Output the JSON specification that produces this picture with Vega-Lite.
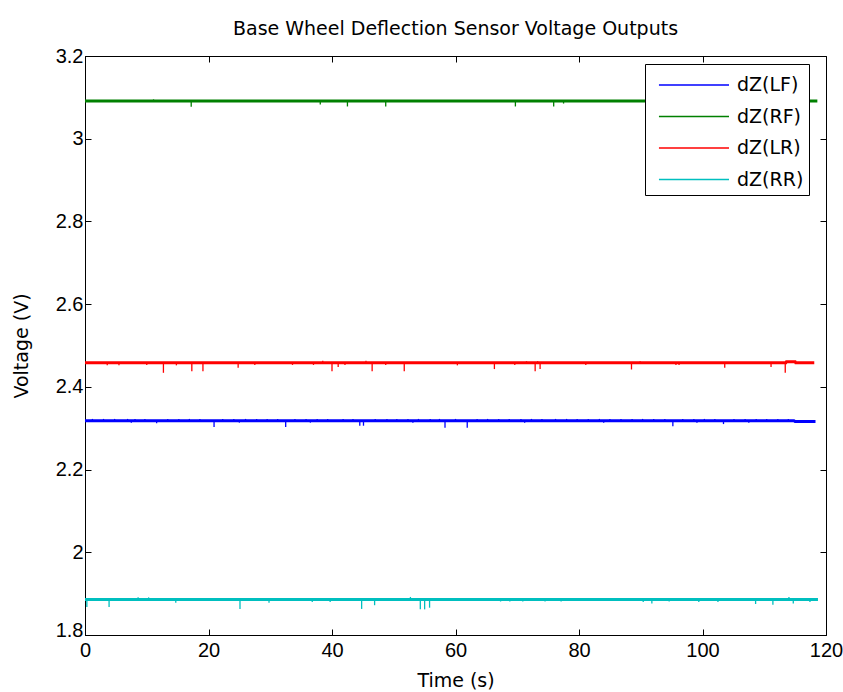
{
  "$schema": "https://vega.github.io/schema/vega-lite/v6.json",
  "width": 741,
  "height": 579,
  "autosize": "none",
  "padding": {"left": 85, "top": 56, "right": 17, "bottom": 57},
  "background": "white",
  "title": {"text": "Base Wheel Deflection Sensor Voltage Outputs", "font": "DejaVu Sans", "fontSize": 19, "fontWeight": "normal", "color": "black", "offset": 7},
  "config": {"view": {"stroke": "black", "strokeWidth": 1}},
  "datasets": {
    "base": [
      {"s": "dZ(LF)", "t": 0, "v": 2.318}, {"s": "dZ(LF)", "t": 114.8, "v": 2.318}, {"s": "dZ(LF)", "t": 115.0, "v": 2.316}, {"s": "dZ(LF)", "t": 118.3, "v": 2.316},
      {"s": "dZ(RF)", "t": 0, "v": 3.091}, {"s": "dZ(RF)", "t": 118.6, "v": 3.091},
      {"s": "dZ(LR)", "t": 0, "v": 2.458}, {"s": "dZ(LR)", "t": 113.5, "v": 2.458}, {"s": "dZ(LR)", "t": 113.6, "v": 2.461}, {"s": "dZ(LR)", "t": 115.0, "v": 2.461}, {"s": "dZ(LR)", "t": 115.1, "v": 2.458}, {"s": "dZ(LR)", "t": 118.1, "v": 2.458},
      {"s": "dZ(RR)", "t": 0, "v": 1.886}, {"s": "dZ(RR)", "t": 118.7, "v": 1.886}
    ],
    "spikes": [
      {"s": "dZ(LR)", "t": 3.6, "v": 2.458, "tip": 2.452}, {"s": "dZ(LR)", "t": 5.5, "v": 2.458, "tip": 2.452}, {"s": "dZ(LR)", "t": 10.0, "v": 2.458, "tip": 2.453}, {"s": "dZ(LR)", "t": 12.7, "v": 2.458, "tip": 2.434},
      {"s": "dZ(LR)", "t": 14.8, "v": 2.458, "tip": 2.452}, {"s": "dZ(LR)", "t": 17.3, "v": 2.458, "tip": 2.438}, {"s": "dZ(LR)", "t": 19.1, "v": 2.458, "tip": 2.438}, {"s": "dZ(LR)", "t": 24.8, "v": 2.458, "tip": 2.446},
      {"s": "dZ(LR)", "t": 27.5, "v": 2.458, "tip": 2.453}, {"s": "dZ(LR)", "t": 33.6, "v": 2.458, "tip": 2.453}, {"s": "dZ(LR)", "t": 37.0, "v": 2.458, "tip": 2.453}, {"s": "dZ(LR)", "t": 38.5, "v": 2.458, "tip": 2.463},
      {"s": "dZ(LR)", "t": 40.0, "v": 2.458, "tip": 2.438}, {"s": "dZ(LR)", "t": 41.0, "v": 2.458, "tip": 2.448}, {"s": "dZ(LR)", "t": 42.1, "v": 2.458, "tip": 2.453}, {"s": "dZ(LR)", "t": 45.5, "v": 2.458, "tip": 2.463},
      {"s": "dZ(LR)", "t": 46.5, "v": 2.458, "tip": 2.438}, {"s": "dZ(LR)", "t": 48.7, "v": 2.458, "tip": 2.453}, {"s": "dZ(LR)", "t": 51.7, "v": 2.458, "tip": 2.438}, {"s": "dZ(LR)", "t": 60.3, "v": 2.458, "tip": 2.452},
      {"s": "dZ(LR)", "t": 66.3, "v": 2.458, "tip": 2.443}, {"s": "dZ(LR)", "t": 69.6, "v": 2.458, "tip": 2.453}, {"s": "dZ(LR)", "t": 71.5, "v": 2.458, "tip": 2.462}, {"s": "dZ(LR)", "t": 72.9, "v": 2.458, "tip": 2.438},
      {"s": "dZ(LR)", "t": 73.3, "v": 2.458, "tip": 2.462}, {"s": "dZ(LR)", "t": 73.7, "v": 2.458, "tip": 2.443}, {"s": "dZ(LR)", "t": 81.1, "v": 2.458, "tip": 2.453}, {"s": "dZ(LR)", "t": 88.5, "v": 2.458, "tip": 2.442},
      {"s": "dZ(LR)", "t": 89.9, "v": 2.458, "tip": 2.462}, {"s": "dZ(LR)", "t": 95.7, "v": 2.458, "tip": 2.453}, {"s": "dZ(LR)", "t": 96.2, "v": 2.458, "tip": 2.453}, {"s": "dZ(LR)", "t": 103.6, "v": 2.458, "tip": 2.446},
      {"s": "dZ(LR)", "t": 111.1, "v": 2.458, "tip": 2.448}, {"s": "dZ(LR)", "t": 113.4, "v": 2.458, "tip": 2.434},
      {"s": "dZ(LF)", "t": 11.6, "v": 2.318, "tip": 2.312}, {"s": "dZ(LF)", "t": 20.9, "v": 2.318, "tip": 2.303}, {"s": "dZ(LF)", "t": 32.5, "v": 2.318, "tip": 2.303}, {"s": "dZ(LF)", "t": 44.5, "v": 2.318, "tip": 2.306},
      {"s": "dZ(LF)", "t": 45.1, "v": 2.318, "tip": 2.306}, {"s": "dZ(LF)", "t": 58.3, "v": 2.318, "tip": 2.301}, {"s": "dZ(LF)", "t": 61.9, "v": 2.318, "tip": 2.301}, {"s": "dZ(LF)", "t": 95.2, "v": 2.318, "tip": 2.305},
      {"s": "dZ(LF)", "t": 103.4, "v": 2.318, "tip": 2.31},
      {"s": "dZ(LF)", "t": 7.5, "v": 2.318, "tip": 2.3135}, {"s": "dZ(LF)", "t": 25.0, "v": 2.318, "tip": 2.3135}, {"s": "dZ(LF)", "t": 36.5, "v": 2.318, "tip": 2.3135}, {"s": "dZ(LF)", "t": 53.1, "v": 2.318, "tip": 2.3135},
      {"s": "dZ(LF)", "t": 71.2, "v": 2.318, "tip": 2.3135}, {"s": "dZ(LF)", "t": 84.0, "v": 2.318, "tip": 2.3135}, {"s": "dZ(LF)", "t": 99.1, "v": 2.318, "tip": 2.3135}, {"s": "dZ(LF)", "t": 107.5, "v": 2.318, "tip": 2.3135},
      {"s": "dZ(LF)", "t": 1.2, "v": 2.318, "tip": 2.3225}, {"s": "dZ(LF)", "t": 3.0, "v": 2.318, "tip": 2.3225}, {"s": "dZ(LF)", "t": 4.8, "v": 2.318, "tip": 2.3225}, {"s": "dZ(LF)", "t": 6.9, "v": 2.318, "tip": 2.3225},
      {"s": "dZ(LF)", "t": 8.1, "v": 2.318, "tip": 2.3225}, {"s": "dZ(LF)", "t": 9.7, "v": 2.318, "tip": 2.3225}, {"s": "dZ(LF)", "t": 13.4, "v": 2.318, "tip": 2.3225}, {"s": "dZ(LF)", "t": 15.2, "v": 2.318, "tip": 2.3225},
      {"s": "dZ(LF)", "t": 16.9, "v": 2.318, "tip": 2.3225}, {"s": "dZ(LF)", "t": 18.6, "v": 2.318, "tip": 2.3225}, {"s": "dZ(LF)", "t": 22.3, "v": 2.318, "tip": 2.3225}, {"s": "dZ(LF)", "t": 24.1, "v": 2.318, "tip": 2.3225},
      {"s": "dZ(LF)", "t": 26.0, "v": 2.318, "tip": 2.3225}, {"s": "dZ(LF)", "t": 27.8, "v": 2.318, "tip": 2.3225}, {"s": "dZ(LF)", "t": 29.5, "v": 2.318, "tip": 2.3225}, {"s": "dZ(LF)", "t": 31.2, "v": 2.318, "tip": 2.3225},
      {"s": "dZ(LF)", "t": 34.0, "v": 2.318, "tip": 2.3225}, {"s": "dZ(LF)", "t": 35.8, "v": 2.318, "tip": 2.3225}, {"s": "dZ(LF)", "t": 37.6, "v": 2.318, "tip": 2.3225}, {"s": "dZ(LF)", "t": 39.3, "v": 2.318, "tip": 2.3225},
      {"s": "dZ(LF)", "t": 41.8, "v": 2.318, "tip": 2.3225}, {"s": "dZ(LF)", "t": 43.4, "v": 2.318, "tip": 2.3225}, {"s": "dZ(LF)", "t": 47.0, "v": 2.318, "tip": 2.3225}, {"s": "dZ(LF)", "t": 48.9, "v": 2.318, "tip": 2.3225},
      {"s": "dZ(LF)", "t": 50.5, "v": 2.318, "tip": 2.3225}, {"s": "dZ(LF)", "t": 52.3, "v": 2.318, "tip": 2.3225}, {"s": "dZ(LF)", "t": 54.0, "v": 2.318, "tip": 2.3225}, {"s": "dZ(LF)", "t": 55.9, "v": 2.318, "tip": 2.3225},
      {"s": "dZ(LF)", "t": 57.4, "v": 2.318, "tip": 2.3225}, {"s": "dZ(LF)", "t": 60.0, "v": 2.318, "tip": 2.3225}, {"s": "dZ(LF)", "t": 63.5, "v": 2.318, "tip": 2.3225}, {"s": "dZ(LF)", "t": 65.2, "v": 2.318, "tip": 2.3225},
      {"s": "dZ(LF)", "t": 67.0, "v": 2.318, "tip": 2.3225}, {"s": "dZ(LF)", "t": 68.7, "v": 2.318, "tip": 2.3225}, {"s": "dZ(LF)", "t": 70.6, "v": 2.318, "tip": 2.3225}, {"s": "dZ(LF)", "t": 72.3, "v": 2.318, "tip": 2.3225},
      {"s": "dZ(LF)", "t": 74.0, "v": 2.318, "tip": 2.3225}, {"s": "dZ(LF)", "t": 76.2, "v": 2.318, "tip": 2.3225}, {"s": "dZ(LF)", "t": 78.0, "v": 2.318, "tip": 2.3225}, {"s": "dZ(LF)", "t": 79.7, "v": 2.318, "tip": 2.3225},
      {"s": "dZ(LF)", "t": 81.5, "v": 2.318, "tip": 2.3225}, {"s": "dZ(LF)", "t": 83.3, "v": 2.318, "tip": 2.3225}, {"s": "dZ(LF)", "t": 85.0, "v": 2.318, "tip": 2.3225}, {"s": "dZ(LF)", "t": 86.8, "v": 2.318, "tip": 2.3225},
      {"s": "dZ(LF)", "t": 88.6, "v": 2.318, "tip": 2.3225}, {"s": "dZ(LF)", "t": 90.3, "v": 2.318, "tip": 2.3225}, {"s": "dZ(LF)", "t": 92.1, "v": 2.318, "tip": 2.3225}, {"s": "dZ(LF)", "t": 93.9, "v": 2.318, "tip": 2.3225},
      {"s": "dZ(LF)", "t": 96.8, "v": 2.318, "tip": 2.3225}, {"s": "dZ(LF)", "t": 98.6, "v": 2.318, "tip": 2.3225}, {"s": "dZ(LF)", "t": 100.3, "v": 2.318, "tip": 2.3225}, {"s": "dZ(LF)", "t": 102.0, "v": 2.318, "tip": 2.3225},
      {"s": "dZ(LF)", "t": 105.1, "v": 2.318, "tip": 2.3225}, {"s": "dZ(LF)", "t": 106.9, "v": 2.318, "tip": 2.3225}, {"s": "dZ(LF)", "t": 108.7, "v": 2.318, "tip": 2.3225}, {"s": "dZ(LF)", "t": 110.4, "v": 2.318, "tip": 2.3225},
      {"s": "dZ(LF)", "t": 112.2, "v": 2.318, "tip": 2.3225}, {"s": "dZ(LF)", "t": 113.9, "v": 2.318, "tip": 2.3225},
      {"s": "dZ(RF)", "t": 11.1, "v": 3.091, "tip": 3.095}, {"s": "dZ(RF)", "t": 17.2, "v": 3.091, "tip": 3.077}, {"s": "dZ(RF)", "t": 38.1, "v": 3.091, "tip": 3.083}, {"s": "dZ(RF)", "t": 42.5, "v": 3.091, "tip": 3.078},
      {"s": "dZ(RF)", "t": 48.7, "v": 3.091, "tip": 3.078}, {"s": "dZ(RF)", "t": 69.7, "v": 3.091, "tip": 3.078}, {"s": "dZ(RF)", "t": 75.9, "v": 3.091, "tip": 3.078}, {"s": "dZ(RF)", "t": 77.5, "v": 3.091, "tip": 3.085},
      {"s": "dZ(RR)", "t": 0.3, "v": 1.886, "tip": 1.868}, {"s": "dZ(RR)", "t": 3.9, "v": 1.886, "tip": 1.868}, {"s": "dZ(RR)", "t": 8.6, "v": 1.886, "tip": 1.891}, {"s": "dZ(RR)", "t": 10.3, "v": 1.886, "tip": 1.891},
      {"s": "dZ(RR)", "t": 14.7, "v": 1.886, "tip": 1.878}, {"s": "dZ(RR)", "t": 25.1, "v": 1.886, "tip": 1.863}, {"s": "dZ(RR)", "t": 29.8, "v": 1.886, "tip": 1.878}, {"s": "dZ(RR)", "t": 36.8, "v": 1.886, "tip": 1.88},
      {"s": "dZ(RR)", "t": 39.7, "v": 1.886, "tip": 1.88}, {"s": "dZ(RR)", "t": 44.8, "v": 1.886, "tip": 1.863}, {"s": "dZ(RR)", "t": 46.9, "v": 1.886, "tip": 1.872}, {"s": "dZ(RR)", "t": 52.7, "v": 1.886, "tip": 1.892},
      {"s": "dZ(RR)", "t": 54.3, "v": 1.886, "tip": 1.862}, {"s": "dZ(RR)", "t": 55.0, "v": 1.886, "tip": 1.862}, {"s": "dZ(RR)", "t": 55.8, "v": 1.886, "tip": 1.866}, {"s": "dZ(RR)", "t": 67.3, "v": 1.886, "tip": 1.881},
      {"s": "dZ(RR)", "t": 68.8, "v": 1.886, "tip": 1.881}, {"s": "dZ(RR)", "t": 70.9, "v": 1.886, "tip": 1.881}, {"s": "dZ(RR)", "t": 72.7, "v": 1.886, "tip": 1.882}, {"s": "dZ(RR)", "t": 74.5, "v": 1.886, "tip": 1.881},
      {"s": "dZ(RR)", "t": 77.1, "v": 1.886, "tip": 1.881}, {"s": "dZ(RR)", "t": 90.4, "v": 1.886, "tip": 1.88}, {"s": "dZ(RR)", "t": 91.8, "v": 1.886, "tip": 1.876}, {"s": "dZ(RR)", "t": 94.6, "v": 1.886, "tip": 1.881},
      {"s": "dZ(RR)", "t": 99.4, "v": 1.886, "tip": 1.88}, {"s": "dZ(RR)", "t": 102.5, "v": 1.886, "tip": 1.88}, {"s": "dZ(RR)", "t": 108.6, "v": 1.886, "tip": 1.875}, {"s": "dZ(RR)", "t": 111.4, "v": 1.886, "tip": 1.873},
      {"s": "dZ(RR)", "t": 114.0, "v": 1.886, "tip": 1.892}, {"s": "dZ(RR)", "t": 114.7, "v": 1.886, "tip": 1.876}, {"s": "dZ(RR)", "t": 117.4, "v": 1.886, "tip": 1.88}
    ]
  },
  "layer": [
    {
      "layer": [
        {
          "data": {"name": "base"},
          "mark": {"type": "line", "clip": true, "strokeWidth": 3},
          "encoding": {
            "x": {"field": "t", "type": "quantitative", "scale": {"domain": [0, 120], "nice": false, "zero": false},
              "axis": {"values": [0, 20, 40, 60, 80, 100, 120], "title": "Time (s)", "grid": false, "tickSize": -6, "tickColor": "black", "domainColor": "black",
                "labelFont": "Liberation Sans", "labelFontSize": 20, "labelColor": "black", "labelPadding": 11, "labelFlush": false, "labelOverlap": false,
                "titleFont": "DejaVu Sans", "titleFontSize": 19, "titleFontWeight": "normal", "titleColor": "black", "titlePadding": 11}},
            "y": {"field": "v", "type": "quantitative", "scale": {"domain": [1.8, 3.2], "nice": false, "zero": false},
              "axis": {"values": [1.8, 2, 2.2, 2.4, 2.6, 2.8, 3, 3.2], "format": "~g", "title": "Voltage (V)", "grid": false, "tickSize": -6, "tickColor": "black", "domainColor": "black",
                "labelFont": "Liberation Sans", "labelFontSize": 20, "labelColor": "black", "labelPadding": 8, "labelFlush": false, "labelOverlap": false,
                "labelOffset": {"condition": {"test": "datum.value < 1.9", "value": -5}, "value": 0},
                "titleFont": "DejaVu Sans", "titleFontSize": 19, "titleFontWeight": "normal", "titleColor": "black", "titlePadding": 24}},
            "color": {"field": "s", "type": "nominal",
              "scale": {"domain": ["dZ(LF)", "dZ(RF)", "dZ(LR)", "dZ(RR)"], "range": ["#0000ff", "#008000", "#ff0000", "#00bfbf"]},
              "legend": {"orient": "none", "legendX": 560, "legendY": 8, "title": null, "strokeColor": "black", "fillColor": "white", "padding": 5, "rowPadding": 5.5,
                "labelFont": "DejaVu Sans", "labelFontSize": 19, "labelColor": "black", "labelOffset": 55,
                "symbolType": "M-0.47,0H4.2", "symbolSize": 900, "symbolStrokeWidth": 1.5, "symbolFillColor": "transparent"}}
          }
        },
        {
          "data": {"name": "spikes"},
          "mark": {"type": "rule", "strokeWidth": 1.3, "clip": true},
          "encoding": {
            "x": {"field": "t", "type": "quantitative"},
            "y": {"field": "v", "type": "quantitative"},
            "y2": {"field": "tip"},
            "color": {"field": "s", "type": "nominal"}
          }
        }
      ]
    },
    {
      "data": {"name": "base"},
      "mark": {"type": "point", "opacity": 0},
      "encoding": {
        "x": {"field": "t", "type": "quantitative", "scale": {"domain": [0, 120], "nice": false, "zero": false},
          "axis": {"orient": "top", "values": [0, 20, 40, 60, 80, 100, 120], "labels": false, "title": null, "grid": false, "domain": false, "tickSize": -6, "tickColor": "black"}},
        "y": {"field": "v", "type": "quantitative", "scale": {"domain": [1.8, 3.2], "nice": false, "zero": false},
          "axis": {"orient": "right", "values": [1.8, 2, 2.2, 2.4, 2.6, 2.8, 3, 3.2], "labels": false, "title": null, "grid": false, "domain": false, "tickSize": -6, "tickColor": "black"}}
      }
    }
  ],
  "resolve": {"scale": {"x": "independent", "y": "independent"}}
}
